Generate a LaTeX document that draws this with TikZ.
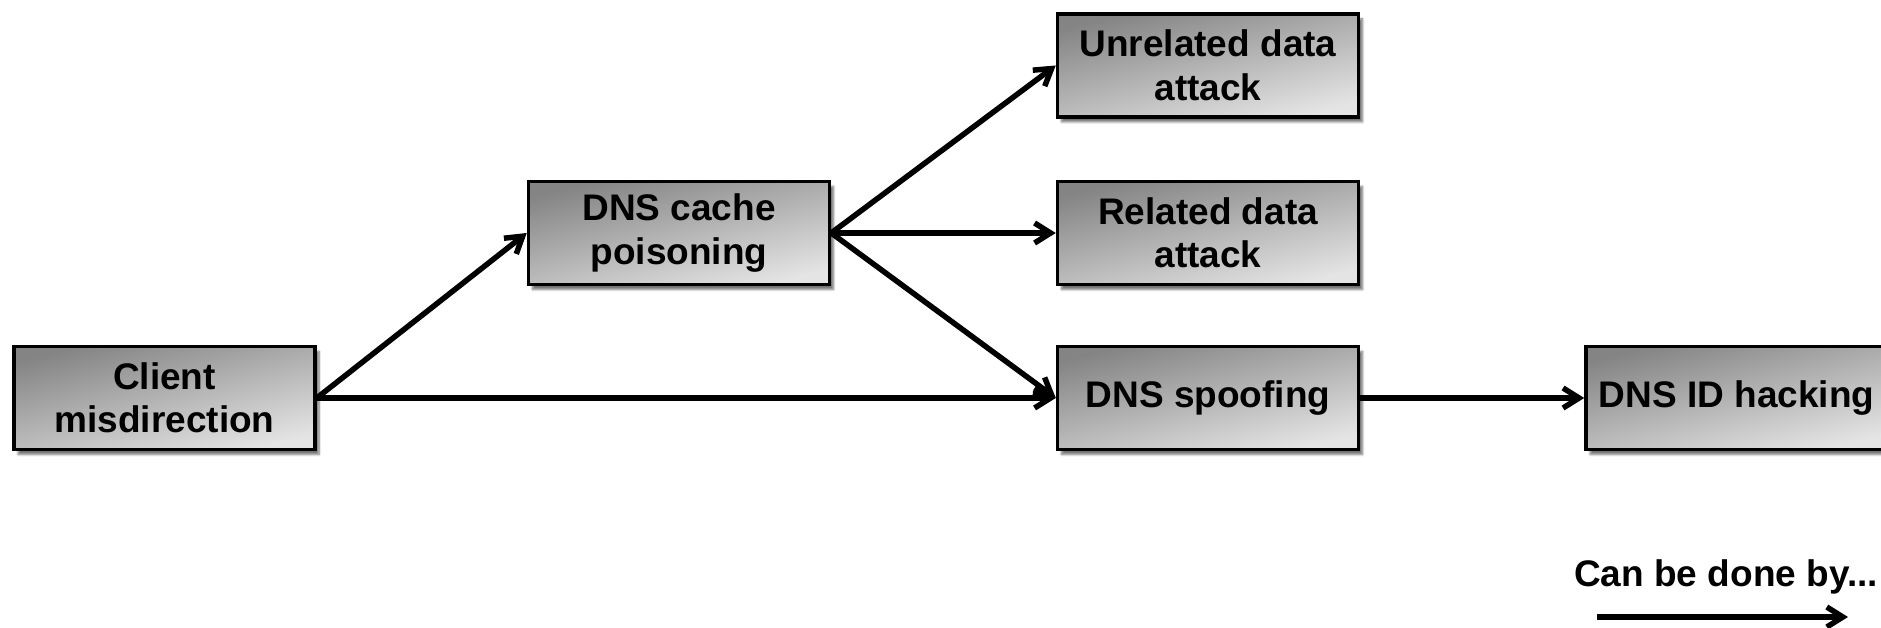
\documentclass[tikz,border=0pt]{standalone}
\usepackage{fontspec}
\setmainfont{Liberation Sans}
\usetikzlibrary{arrows.meta,shadows.blur}
\definecolor{boxdark}{RGB}{132,132,132}
\definecolor{boxlight}{RGB}{228,228,228}
\begin{document}
\begin{tikzpicture}[x=1pt,y=-1pt,
  box/.style={draw=black, line width=3.5pt, minimum width=301pt, minimum height=103pt,
    inner sep=0pt, align=center, font=\fontsize{37}{43.5}\selectfont\bfseries,
    top color=boxdark, bottom color=boxlight, shading angle=14,
    blur shadow={shadow xshift=4pt, shadow yshift=-5pt, shadow blur steps=8, shadow opacity=55}},
  arr/.style={line width=5.5pt, -{Straight Barb[length=16pt,width=20pt]}}]
\useasboundingbox (0,0) rectangle (1881,628);
\node[box] (client) at (164.5,398) {Client\\misdirection};
\node[box] (cache) at (679,233) {DNS cache\\poisoning};
\node[box] (unrel) at (1208,65.5) {Unrelated data\\attack};
\node[box] (rel) at (1208,233) {Related data\\attack};
\node[box] (spoof) at (1208,398) {DNS spoofing};
\node[box] (idh) at (1736.5,398) {DNS ID hacking};
\draw[arr] (client.east) -- (cache.west);
\draw[arr] (client.east) -- (spoof.west);
\draw[arr] (cache.east) -- (unrel.west);
\draw[arr] (cache.east) -- (rel.west);
\draw[arr] (cache.east) -- (spoof.west);
\draw[arr] (spoof.east) -- (idh.west);
\node[font=\fontsize{37}{43}\selectfont\bfseries, inner sep=0pt] (legtxt) at (1726,577) {Can be done by...};
\coordinate (la) at (1597,617);
\coordinate (lb) at (1848,617);
\draw[arr] (la) -- (lb);
\end{tikzpicture}
\end{document}
